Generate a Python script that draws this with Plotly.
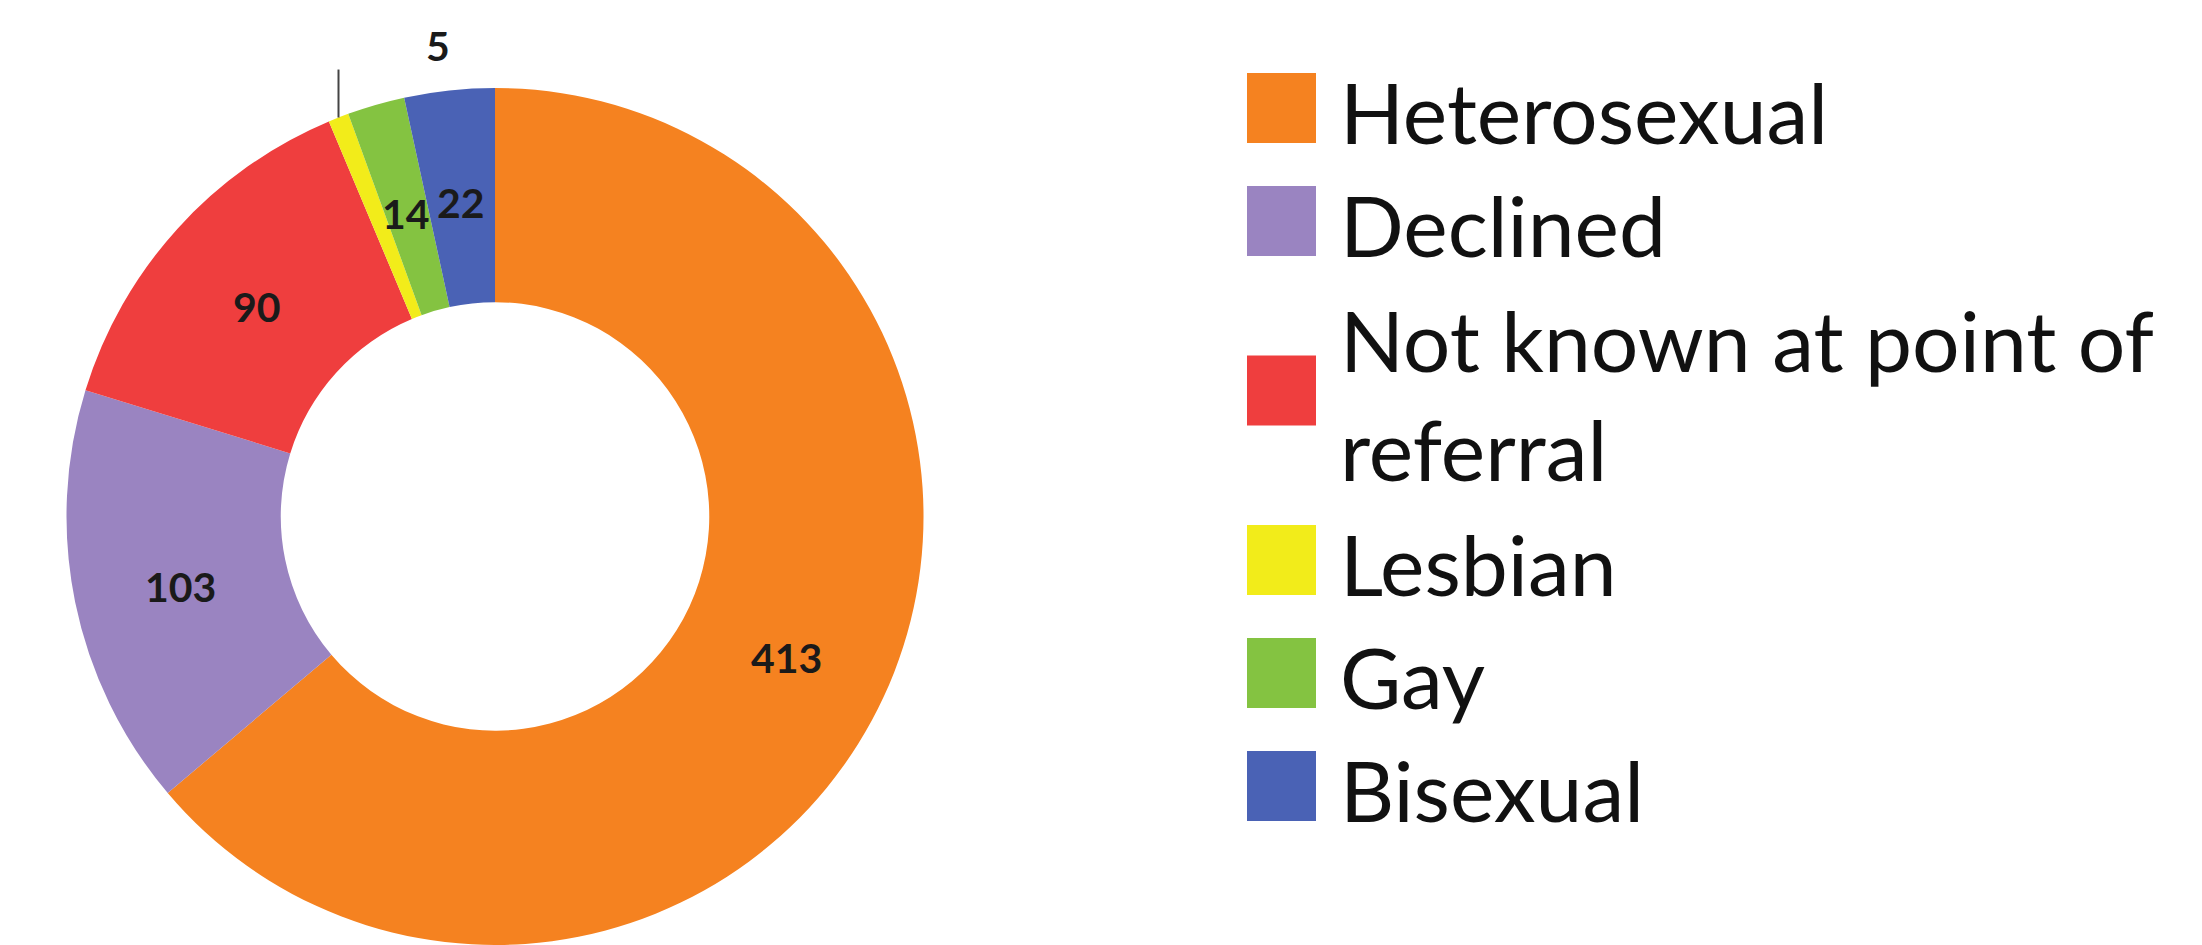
import numpy as np
import plotly.graph_objects as go

# --- data ---------------------------------------------------------------
categories = ["Heterosexual", "Declined", "Not known at point of referral",
              "Lesbian", "Gay", "Bisexual"]
legend_text = ["Heterosexual", "Declined", "Not known at point of<br>referral",
               "Lesbian", "Gay", "Bisexual"]
counts = [413, 103, 90, 5, 14, 22]
colors = ["#F58220", "#9A84C1", "#EF3E3E", "#F2EC1A", "#84C341", "#4A62B5"]
outside_labels = ["Lesbian"]

# --- layout constants -----------------------------------------------------
W, H = 2202, 945
dom_x = [0.0302, 0.4194]
dom_y = [0.0, 0.907]
hole = 0.5
font_family = "Lato, 'Open Sans', sans-serif"
label_font = dict(family=font_family, size=41, color="#1a1a1a", weight="bold")

fig = go.Figure(
    go.Pie(
        labels=categories,
        values=counts,
        sort=False,
        direction="clockwise",
        rotation=0,
        hole=hole,
        marker=dict(colors=colors, line=dict(width=0)),
        textinfo="none",
        domain=dict(x=dom_x, y=dom_y),
        showlegend=False,
        hoverinfo="label+value",
    )
)

# pie geometry in pixels (origin bottom-left), as plotly lays it out
cx = W * (dom_x[0] + dom_x[1]) / 2
cy = H * (dom_y[0] + dom_y[1]) / 2
R = min(W * (dom_x[1] - dom_x[0]), H * (dom_y[1] - dom_y[0])) / 2
r_mid = R * (1 + hole) / 2

vals = np.array(counts, dtype=float)
cum = np.cumsum(vals)
mid_angles = np.deg2rad((cum - vals / 2) / vals.sum() * 360.0)

annotations = []
shapes = []
for name, v, th in zip(categories, counts, mid_angles):
    if name in outside_labels:
        # short vertical leader from the rim, value placed above it
        x0 = cx + R * np.sin(th)
        y0 = cy + R * np.cos(th)
        y1 = y0 + 48
        shapes.append(dict(type="line", xref="paper", yref="paper",
                           x0=x0 / W, x1=x0 / W, y0=y0 / H, y1=y1 / H,
                           line=dict(color="#444444", width=2)))
        annotations.append(dict(x=(x0 + 99) / W, y=(y1 + 24) / H,
                                xref="paper", yref="paper", text=str(v),
                                showarrow=False, xanchor="center", yanchor="middle",
                                font=label_font))
    else:
        x = cx + r_mid * np.sin(th)
        y = cy + r_mid * np.cos(th) - 6
        annotations.append(dict(x=x / W, y=y / H, xref="paper", yref="paper",
                                text=str(v), showarrow=False,
                                xanchor="center", yanchor="middle",
                                font=label_font))

# --- legend with large square swatches ------------------------------------
sw_x0, sw_x1 = 1247, 1316
sw_h = 70
text_x = 1338
row_top = 108
row_step = 113
line_idx = 0
for txt, col in zip(legend_text, colors):
    n_lines = txt.count("<br>") + 1
    yc = row_top + row_step * (line_idx + (n_lines - 1) / 2)
    line_idx += n_lines
    shapes.append(dict(type="rect", xref="paper", yref="paper",
                       x0=sw_x0 / W, x1=sw_x1 / W,
                       y0=(H - yc - sw_h / 2) / H, y1=(H - yc + sw_h / 2) / H,
                       fillcolor=col, line=dict(width=0)))
    annotations.append(dict(x=text_x / W, y=(H - yc - 3) / H, xref="paper", yref="paper",
                            text=txt, showarrow=False, xanchor="left", yanchor="middle",
                            align="left",
                            font=dict(family=font_family, size=84, color="#111111")))

fig.update_layout(
    width=W,
    height=H,
    margin=dict(l=0, r=0, t=0, b=0),
    paper_bgcolor="white",
    plot_bgcolor="white",
    showlegend=False,
    annotations=annotations,
    shapes=shapes,
)

fig.write_html("out.html")
